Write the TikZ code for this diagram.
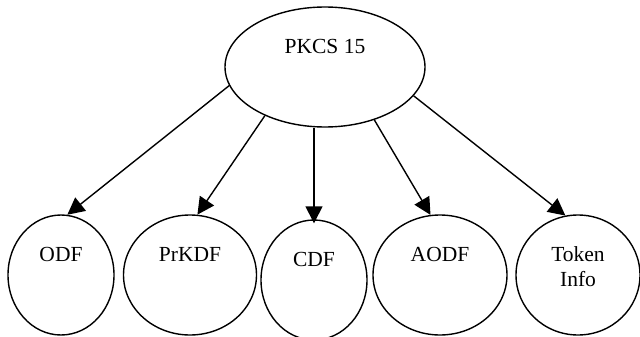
\documentclass[tikz,border=0pt]{standalone}
\usepackage{fontspec}
\setmainfont{Liberation Serif}
\usetikzlibrary{shapes.geometric}
\usetikzlibrary{arrows.meta}
\tikzset{%
  myedge/.style={-{Triangle[length=17pt,width=17pt]}, line width=1.4pt},
  mynode/.style={ellipse, draw=black, line width=1.4pt, inner sep=0pt,
    minimum height=120pt, align=center, text height=16pt, text depth=44pt,
    font=\fontsize{21.5}{25}\selectfont}
}

\begin{document}
\begin{tikzpicture}[x=1pt,y=-1pt]
  \clip (0,0) rectangle (640,337);
  \node[mynode, minimum width=200pt, text depth=42pt] (pkcs) at (325,67) {PKCS 15};
  \node[mynode, minimum width=106pt] (odf) at (61,275) {ODF};
  \node[mynode, minimum width=133pt] (prkdf) at (190,275) {PrKDF};
  \node[mynode, minimum width=106pt] (cdf) at (314,280) {CDF};
  \node[mynode, minimum width=134pt] (aodf) at (440,275) {AODF};
  \node[mynode, minimum width=124pt, text height=41pt, text depth=19pt] (tokeninfo) at (578,275) {Token\\ Info};
  \draw [myedge] (pkcs.191) -- (odf.84);
  \draw [myedge] (pkcs.219) -- (prkdf.83);
  \draw [myedge, shorten >=-4pt] (pkcs.south -| cdf.north) -- (cdf.north);
  \draw [myedge] (pkcs.313) -- (aodf.99);
  \draw [myedge] (pkcs.342) -- (tokeninfo.102);
\end{tikzpicture}
\end{document}
